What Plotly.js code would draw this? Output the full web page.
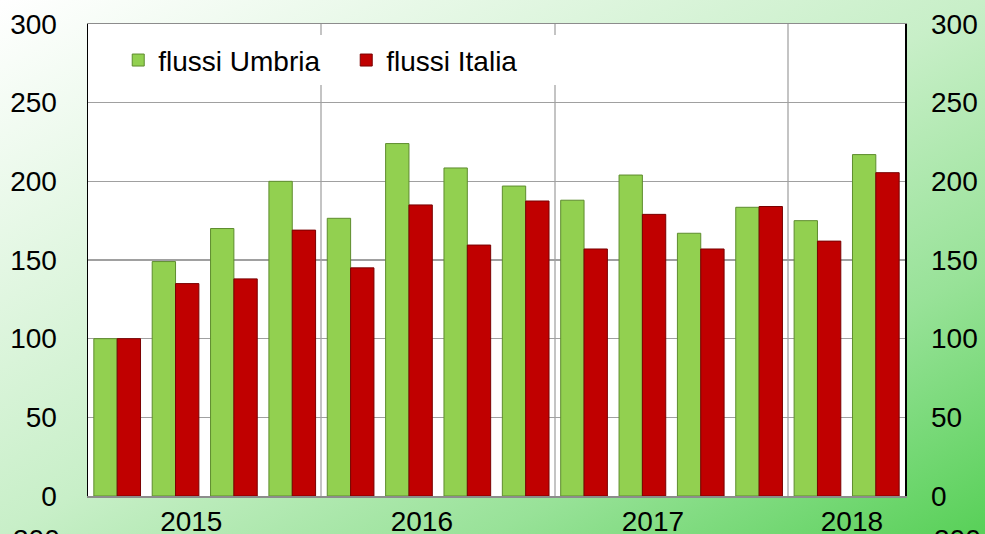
<!DOCTYPE html>
<html>
<head>
<meta charset="utf-8">
<script src="https://cdn.plot.ly/plotly-3.0.1.min.js"></script>
<style>
  html, body { margin:0; padding:0; width:985px; height:534px; overflow:hidden;
    background: linear-gradient(to bottom right, #ffffff 0%, #c8efc8 50%, #98e298 75%, #58d058 100%); }
  #chart { width:985px; height:534px; }
</style>
</head>
<body>
<div id="chart"></div>
<script>
// Quarterly periods (2015 Q1 .. 2018 Q2)
const categories = ['I 2015','II 2015','III 2015','IV 2015',
                    'I 2016','II 2016','III 2016','IV 2016',
                    'I 2017','II 2017','III 2017','IV 2017',
                    'I 2018','II 2018'];
const flussiUmbria = [100, 149, 170, 200, 176.5, 224, 208.5, 197, 188, 204, 167, 183.5, 175, 217];
const flussiItalia = [100, 135, 138, 169, 145, 185, 159.5, 187.5, 157, 179, 157, 184, 162, 205.5];
const seriesNames = ['flussi Umbria', 'flussi Italia'];
const yearLabels = ['2015', '2016', '2017', '2018'];
const yTicks = [0, 50, 100, 150, 200, 250, 300];
const clippedLabel = String(yTicks[yTicks.length - 1]); // partly visible label at the bottom edge

const xIdx = categories.map((_, i) => i);
const FONT = 'Liberation Sans, Arial, sans-serif';
const FS = 28;

const traces = [
  { type:'bar', name: seriesNames[0], x: xIdx, y: flussiUmbria, hovertext: categories, hoverinfo:'text+y',
    marker:{ color:'#92d050', line:{ color:'#5e8c2e', width:1 } } },
  { type:'bar', name: seriesNames[1], x: xIdx, y: flussiItalia, hovertext: categories, hoverinfo:'text+y',
    marker:{ color:'#c00000', line:{ color:'#7a0000', width:1 } } },
  { type:'scatter', x:[0], y:[0], xaxis:'x2', yaxis:'y2', mode:'markers',
    marker:{ opacity:0 }, showlegend:false, hoverinfo:'skip' }
];

// year boundaries and label positions (category-index units)
const boundaries = [3.5, 7.5, 11.5];
const yearPos = [1.27, 5.22, 9.18, 12.59];

const layout = {
  width: 985, height: 534,
  margin: { l:88, r:80, t:24, b:38 },
  paper_bgcolor: 'rgba(0,0,0,0)',
  plot_bgcolor: '#ffffff',
  barmode: 'group', bargap: 0.2, bargroupgap: 0,
  font: { family: FONT, size: FS, color:'#000000' },
  showlegend: true,
  legend: { orientation:'h', x:0.037, xanchor:'left', y:0.923, yanchor:'middle',
            bgcolor:'#ffffff', borderwidth:0, font:{ family:FONT, size:FS },
            entrywidth: 183, entrywidthmode:'pixels', traceorder:'normal' },
  xaxis: { type:'linear', range:[-0.5, 13.5], tickmode:'array', tickvals: boundaries,
           ticktext: boundaries.map(() => ''), ticks:'', showgrid:true, gridcolor:'#c4c4c4', gridwidth:2,
           showline:true, linecolor:'#8c8c8c', linewidth:1.5, mirror:true, zeroline:false, fixedrange:true },
  xaxis2: { type:'linear', range:[-0.5, 13.5], overlaying:'x', anchor:'y', side:'bottom',
            tickmode:'array', tickvals: yearPos, ticktext: yearLabels, ticks:'', showgrid:false,
            showline:false, zeroline:false, ticklabelstandoff: 6, tickfont:{ family:FONT, size:FS } },
  yaxis: { range:[0, 300], tickmode:'array', tickvals: yTicks, ticks:'', showgrid:true, gridcolor:'#a0a0a0', gridwidth:1.5,
           showline:true, linecolor:'#000000', linewidth:1.5, mirror:true, zeroline:false,
           ticklabelstandoff: 24, tickfont:{ family:FONT, size:FS } },
  yaxis2: { range:[0, 300], overlaying:'y', side:'right', anchor:'x', tickmode:'array', tickvals: yTicks,
            ticks:'', showgrid:false, showline:false, zeroline:false, ticklabelstandoff: 25,
            tickfont:{ family:FONT, size:FS } },
  annotations: [
    { text: clippedLabel, xref:'paper', yref:'paper', x:-0.032, xanchor:'right', y:-0.056, yanchor:'top',
      showarrow:false, font:{ family:FONT, size:FS, color:'#000000' } },
    { text: clippedLabel, xref:'paper', yref:'paper', x:1.033, xanchor:'left', y:-0.056, yanchor:'top',
      showarrow:false, font:{ family:FONT, size:FS, color:'#000000' } }
  ]
};

Plotly.newPlot('chart', traces, layout, { displayModeBar:false, staticPlot:true });
</script>
</body>
</html>
